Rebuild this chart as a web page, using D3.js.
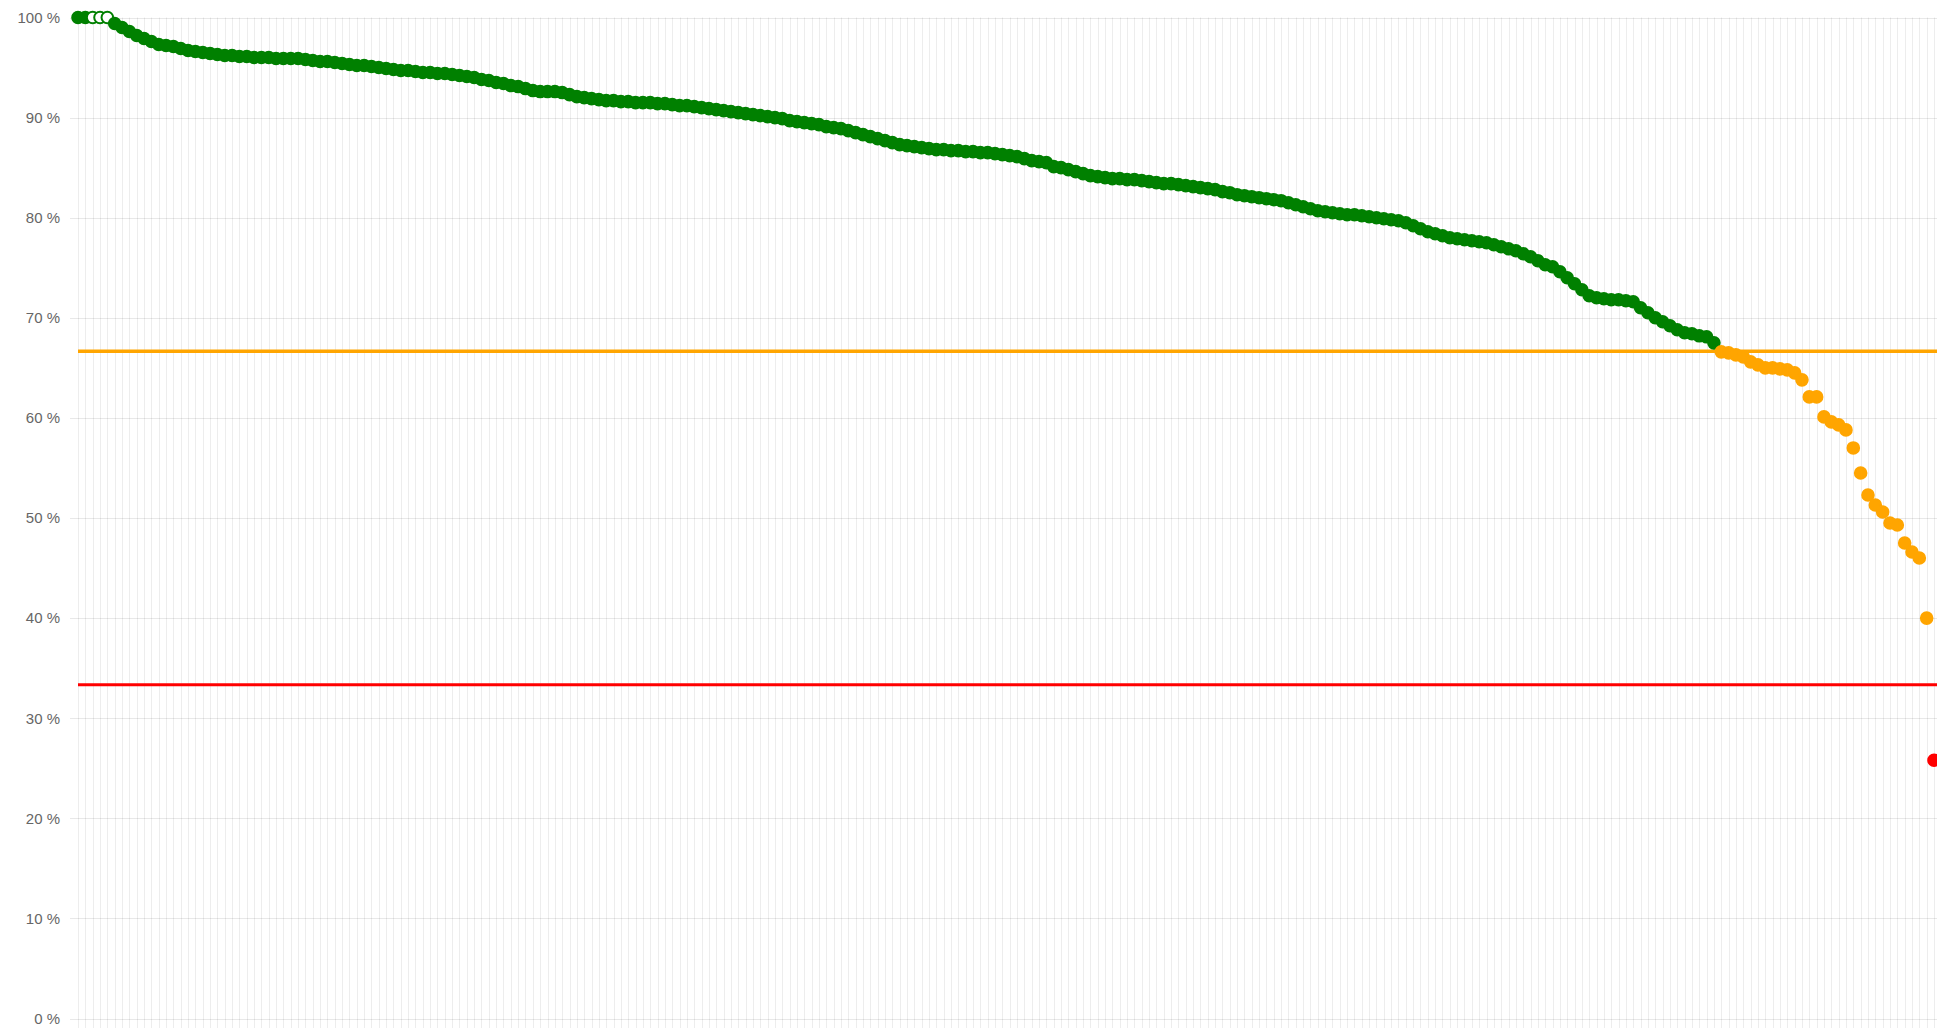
<!DOCTYPE html>
<html>
<head>
<meta charset="utf-8">
<script src="https://cdn.jsdelivr.net/npm/d3@7"></script>
<style>
  body { margin: 0; background: #fff; overflow: hidden; }
</style>
</head>
<body>
<svg id="chart" width="1937" height="1028"></svg>
<script>

// scores, sorted high -> low
const scores = [
  100, 100, 100, 100, 100,
  99.4, 99.0, 98.6, 98.2, 97.9,
  97.6, 97.3, 97.2, 97.1, 96.9,
  96.7, 96.6, 96.5, 96.4, 96.3,
  96.2, 96.2, 96.1, 96.1, 96.0,
  96.0, 96.0, 95.9, 95.9, 95.9,
  95.9, 95.8, 95.7, 95.6, 95.6,
  95.5, 95.4, 95.3, 95.2, 95.2,
  95.1, 95.0, 94.9, 94.8, 94.7,
  94.7, 94.6, 94.5, 94.5, 94.4,
  94.4, 94.3, 94.2, 94.1, 94.0,
  93.8, 93.7, 93.5, 93.4, 93.2,
  93.1, 92.9, 92.7, 92.6, 92.6,
  92.6, 92.5, 92.3, 92.1, 92.0,
  91.9, 91.8, 91.7, 91.7, 91.6,
  91.6, 91.5, 91.5, 91.5, 91.4,
  91.4, 91.3, 91.2, 91.2, 91.1,
  91.0, 90.9, 90.8, 90.7, 90.6,
  90.5, 90.4, 90.3, 90.2, 90.1,
  90.0, 89.9, 89.7, 89.6, 89.5,
  89.4, 89.3, 89.1, 89.0, 88.9,
  88.7, 88.5, 88.3, 88.1, 87.9,
  87.7, 87.5, 87.3, 87.2, 87.1,
  87.0, 86.9, 86.8, 86.8, 86.7,
  86.7, 86.6, 86.6, 86.5, 86.5,
  86.4, 86.3, 86.2, 86.1, 85.9,
  85.7, 85.6, 85.5, 85.1, 85.0,
  84.8, 84.6, 84.4, 84.2, 84.1,
  84.0, 83.9, 83.9, 83.8, 83.8,
  83.7, 83.6, 83.5, 83.4, 83.4,
  83.3, 83.2, 83.1, 83.0, 82.9,
  82.8, 82.6, 82.5, 82.3, 82.2,
  82.1, 82.0, 81.9, 81.8, 81.7,
  81.5, 81.3, 81.1, 80.9, 80.7,
  80.6, 80.5, 80.4, 80.3, 80.3,
  80.2, 80.1, 80.0, 79.9, 79.8,
  79.7, 79.5, 79.2, 78.9, 78.6,
  78.4, 78.2, 78.0, 77.9, 77.8,
  77.7, 77.6, 77.5, 77.3, 77.1,
  76.9, 76.7, 76.4, 76.1, 75.7,
  75.3, 75.1, 74.6, 74.0, 73.4,
  72.8, 72.2, 72.0, 71.9, 71.8,
  71.8, 71.7, 71.6, 71.0, 70.5,
  70.0, 69.6, 69.2, 68.8, 68.5,
  68.4, 68.2, 68.1, 67.5,
  66.6, 66.5, 66.3, 66.1, 65.6,
  65.3, 65.0, 65.0, 64.9, 64.8,
  64.5, 63.8, 62.1, 62.1, 60.1,
  59.6, 59.3, 58.8, 57.0, 54.5,
  52.3, 51.3, 50.6, 49.5, 49.3,
  47.5, 46.6, 46.0, 40.0, 25.8
];
// points drawn as open circles
const hollow = [2, 3, 4];
const yTicks = [0, 10, 20, 30, 40, 50, 60, 70, 80, 90, 100];
const limitHigh = 66.67;
const limitLow = 33.33;

const labels = scores.map((d, i) => i + 1);

const W = 1937, H = 1028;
const plotLeft = 78, plotRight = 1934, plotTop = 17.5, plotBottom = 1018.5;

const svg = d3.select("#chart");

const x = d3.scalePoint().domain(labels).range([plotLeft, plotRight]);
const y = d3.scaleLinear().domain([0, 100]).range([plotBottom, plotTop]);

const colorOf = v => v >= limitHigh ? "green" : (v >= limitLow ? "orange" : "red");

// vertical grid, one per category (goes a bit under the 0 line like tick marks)
svg.append("g")
  .selectAll("line")
  .data(labels)
  .enter()
  .append("line")
  .attr("x1", d => Math.round(x(d)) + 0.5)
  .attr("x2", d => Math.round(x(d)) + 0.5)
  .attr("y1", plotTop)
  .attr("y2", H)
  .attr("stroke", "rgba(0,0,0,0.07)")
  .attr("stroke-width", 1);

// y axis + horizontal grid
const yAxis = d3.axisLeft(y)
  .tickValues(yTicks)
  .tickSize(-(W - 70))
  .tickPadding(10)
  .tickFormat(d => d + " %");

const gy = svg.append("g")
  .attr("transform", "translate(70,0)")
  .call(yAxis);
gy.select(".domain").remove();
gy.selectAll(".tick line")
  .attr("stroke", "rgba(0,0,0,0.09)")
  .attr("shape-rendering", "crispEdges");
gy.selectAll(".tick text")
  .attr("fill", "#666")
  .style("font-family", "'Liberation Sans', Arial, sans-serif")
  .style("font-size", "15px");

// limit lines
svg.append("line")
  .attr("x1", plotLeft).attr("x2", W)
  .attr("y1", y(limitHigh)).attr("y2", y(limitHigh))
  .attr("stroke", "orange")
  .attr("stroke-width", 3.5);

svg.append("line")
  .attr("x1", plotLeft).attr("x2", W)
  .attr("y1", y(limitLow)).attr("y2", y(limitLow))
  .attr("stroke", "red")
  .attr("stroke-width", 3);

// points
svg.append("g")
  .selectAll("circle")
  .data(scores)
  .enter()
  .append("circle")
  .attr("cx", (d, i) => x(labels[i]))
  .attr("cy", d => y(d))
  .attr("r", 5.8)
  .attr("fill", (d, i) => hollow.includes(i) ? "#fff" : colorOf(d))
  .attr("stroke", d => colorOf(d))
  .attr("stroke-width", 2);

</script>
</body>
</html>
